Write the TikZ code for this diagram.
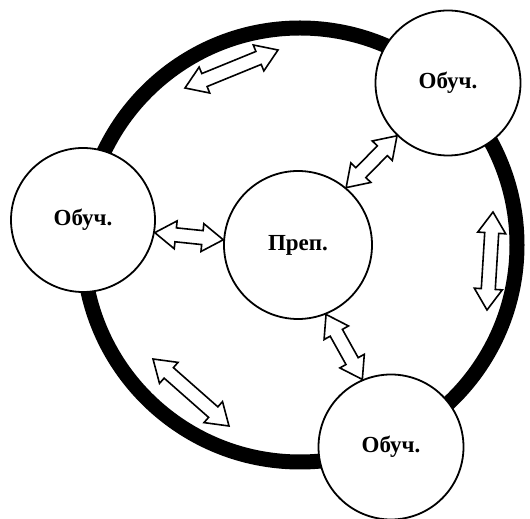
\documentclass[tikz,border=0pt]{standalone}
\usepackage{fontspec}
\setmainfont{Liberation Serif}
\usetikzlibrary{calc}

\begin{document}
\begin{tikzpicture}[x=1pt, y=1pt,
  member/.style={circle, draw, line width=1.8pt, fill=white, minimum size=#1, inner sep=0pt,
                 font=\fontsize{23}{27}\selectfont\bfseries},
  blockarrow/.style={line width=1.6pt, fill=white, line join=miter, to path={
    let \p1=(\tikztostart), \p2=(\tikztotarget), \n1={atan2(\y2-\y1,\x2-\x1)} in
    -- ($(\p1)+(\n1:21pt)+(\n1+90:14pt)$) -- ($(\p1)+(\n1:21pt)+(\n1+90:7pt)$)
    -- ($(\p2)-(\n1:21pt)+(\n1+90:7pt)$) -- ($(\p2)-(\n1:21pt)+(\n1+90:14pt)$)
    -- (\p2)
    -- ($(\p2)-(\n1:21pt)-(\n1+90:14pt)$) -- ($(\p2)-(\n1:21pt)-(\n1+90:7pt)$)
    -- ($(\p1)+(\n1:21pt)-(\n1+90:7pt)$) -- ($(\p1)+(\n1:21pt)-(\n1+90:14pt)$)
    -- cycle}}]

  \useasboundingbox (0,0) rectangle (530,519);

  % outer ring
  \draw[line width=15pt] (300,274) circle[radius=217];

  \node[member=148pt] (T) at (298,274) {Преп.};
  \node[member=144pt] (L) at (83,299) {Обуч.};
  \node[member=145pt] (R) at (448,436) {Обуч.};
  \node[member=145pt] (B) at (391,72) {Обуч.};

  % arrows along the ring
  \coordinate (r1a) at (185,431);
  \coordinate (r1b) at (278,469);
  \coordinate (r2a) at (493,307);
  \coordinate (r2b) at (487,209);
  \coordinate (r3a) at (153,160);
  \coordinate (r3b) at (229,93);

  \draw[blockarrow] (r1a) to (r1b);
  \draw[blockarrow] (r2a) to (r2b);
  \draw[blockarrow] (r3a) to (r3b);

  % arrows to the teacher
  \draw[blockarrow] (L.-10) to (T.176);
  \draw[blockarrow] (T.50) to (R.226);
  \draw[blockarrow] (T.-68) to (B.113);

\end{tikzpicture}
\end{document}
